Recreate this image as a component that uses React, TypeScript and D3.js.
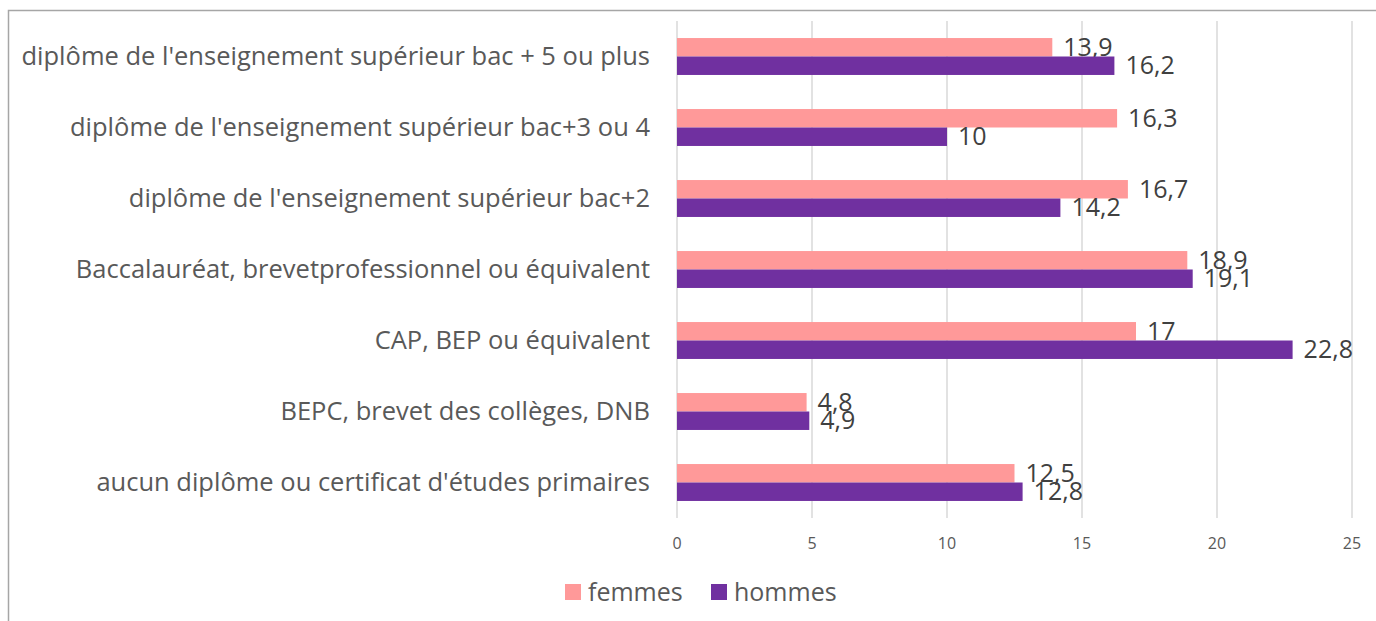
import * as d3 from 'd3'
import { useRef, useEffect } from 'react'

const categories = [
  "diplôme de l'enseignement supérieur bac + 5 ou plus",
  "diplôme de l'enseignement supérieur bac+3 ou 4",
  "diplôme de l'enseignement supérieur bac+2",
  'Baccalauréat, brevetprofessionnel ou équivalent',
  'CAP, BEP ou équivalent',
  'BEPC, brevet des collèges, DNB',
  "aucun diplôme ou certificat d'études primaires",
]
const femmes = [13.9, 16.3, 16.7, 18.9, 17, 4.8, 12.5]
const hommes = [16.2, 10, 14.2, 19.1, 22.8, 4.9, 12.8]
const seriesNames = ['femmes', 'hommes']
const colors = ['#FF9999', '#7030A0']
const xTicks = [0, 5, 10, 15, 20, 25]

const W = 1376
const H = 621
const FONT = "'Open Sans', 'Noto Sans', sans-serif"

export default function App() {
  const svgRef = useRef<SVGSVGElement>(null)
  useEffect(() => {
    const svg = d3.select(svgRef.current)
    svg.selectAll('*').remove()

    const margin = { top: 21, right: 24, bottom: 103, left: 677 }
    const innerW = W - margin.left - margin.right
    const innerH = H - margin.top - margin.bottom

    // chart frame
    svg.append('rect')
      .attr('x', 8.5).attr('y', 10.5)
      .attr('width', W).attr('height', H)
      .attr('fill', 'white')
      .attr('stroke', '#a6a6a6')
      .attr('stroke-width', 1.5)

    const x = d3.scaleLinear().domain([0, 25]).range([0, innerW])
    const y = d3.scaleBand().domain(categories).range([0, innerH]).paddingInner(0.48).paddingOuter(0.24)
    const ySub = d3.scaleBand().domain(seriesNames).range([0, y.bandwidth()])

    const g = svg.append('g').attr('transform', `translate(${margin.left},${margin.top})`)

    g.selectAll('line.grid')
      .data(xTicks)
      .join('line')
      .attr('class', 'grid')
      .attr('x1', d => x(d)).attr('x2', d => x(d))
      .attr('y1', 0).attr('y2', innerH)
      .attr('stroke', '#d9d9d9')
      .attr('stroke-width', 1.5)

    g.selectAll('text.tick')
      .data(xTicks)
      .join('text')
      .attr('class', 'tick')
      .attr('x', d => x(d))
      .attr('y', innerH + 25)
      .attr('dy', '0.35em')
      .attr('text-anchor', 'middle')
      .attr('fill', '#595959')
      .attr('font-family', FONT)
      .attr('font-size', 16)
      .text(d => d)

    g.selectAll('text.cat')
      .data(categories)
      .join('text')
      .attr('class', 'cat')
      .attr('x', -27)
      .attr('y', d => (y(d) ?? 0) + y.bandwidth() / 2)
      .attr('dy', '0.35em')
      .attr('text-anchor', 'end')
      .attr('fill', '#595959')
      .attr('font-family', FONT)
      .attr('font-size', 25.5)
      .text(d => d)

    const series = [femmes, hommes]
    series.forEach((vals, si) => {
      const name = seriesNames[si]
      const rows = categories.map((c, i) => ({ c, v: vals[i] }))
      g.selectAll(`rect.s${si}`)
        .data(rows)
        .join('rect')
        .attr('class', `s${si}`)
        .attr('x', 0)
        .attr('y', d => (y(d.c) ?? 0) + (ySub(name) ?? 0))
        .attr('width', d => x(d.v))
        .attr('height', ySub.bandwidth())
        .attr('fill', colors[si])

      g.selectAll(`text.l${si}`)
        .data(rows)
        .join('text')
        .attr('class', `l${si}`)
        .attr('x', d => x(d.v) + 11)
        .attr('y', d => (y(d.c) ?? 0) + (ySub(name) ?? 0) + ySub.bandwidth() / 2)
        .attr('dy', '0.35em')
        .attr('fill', '#404040')
        .attr('font-family', FONT)
        .attr('font-size', 25)
        .text(d => String(d.v).replace('.', ','))
    })

    // legend
    const legend = svg.append('g').attr('transform', 'translate(565,592)')
    const items = [{ n: 'femmes', c: colors[0], x: 0 }, { n: 'hommes', c: colors[1], x: 146 }]
    items.forEach(it => {
      legend.append('rect')
        .attr('x', it.x).attr('y', -8)
        .attr('width', 16).attr('height', 16)
        .attr('fill', it.c)
      legend.append('text')
        .attr('x', it.x + 23).attr('y', 0)
        .attr('dy', '0.35em')
        .attr('fill', '#595959')
        .attr('font-family', FONT)
        .attr('font-size', 25)
        .text(it.n)
    })
  }, [])

  return (
    <svg ref={svgRef} width={W} height={H} style={{ position: 'absolute', left: 0, top: 0 }} />
  )
}
